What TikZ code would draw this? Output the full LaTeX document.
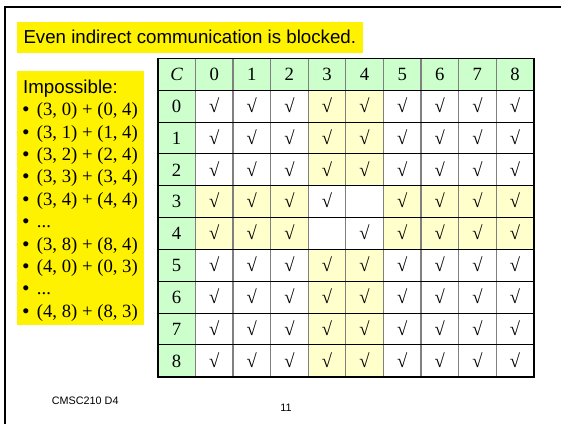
\documentclass[tikz,border=0pt]{standalone}
\usepackage{fontspec}
\setmainfont{Liberation Serif}
\newfontfamily\arial{Liberation Sans}
\definecolor{hdrgreen}{HTML}{CCFFCC}
\definecolor{paleyellow}{HTML}{FFFFCC}
\newcommand\morepairs{...}
\tikzset{
  cell/.style={anchor=base, inner sep=0pt, font=\fontsize{18.7}{22}\selectfont},
  item/.style={anchor=base west, inner sep=0pt, font=\fontsize{18.7}{22}\selectfont},
  bullet/.style={anchor=base west, inner sep=0pt, font=\arial\fontsize{18.7}{22}\selectfont},
  footer/.style={inner sep=0pt, font=\arial\fontsize{10.8}{12}\selectfont},
}
\begin{document}
\begin{tikzpicture}[x=1pt, y=-1pt]
\useasboundingbox (0,0) rectangle (561,424);
% slide frame
\draw[line width=2.2pt] (5,424) -- (5,7) -- (561,7);

% title
\fill[yellow] (16.8,21.5) rectangle (363,52.6);
\node[bullet] (title) at (23.3,43) {Even indirect communication is blocked.};

% list of impossible pairs
\fill[yellow] (16.7,71) rectangle (144,325);
\node[bullet] (imp) at (23,93.3) {Impossible:};
\foreach \txt [count=\k] in {{(3, 0) + (0, 4)}, {(3, 1) + (1, 4)}, {(3, 2) + (2, 4)},
    {(3, 3) + (3, 4)}, {(3, 4) + (4, 4)}, {\morepairs}, {(3, 8) + (8, 4)},
    {(4, 0) + (0, 3)}, {\morepairs}, {(4, 8) + (8, 3)}} {
  \node[bullet] (b\k) at (22.5,{93.3+22.4*\k}) {•};
  \node[item] (i\k) at (36.7,{93.3+22.4*\k}) {\txt};
}

% table fills
\fill[hdrgreen] (157.8,58.3) rectangle (533.8,90.14);
\fill[hdrgreen] (157.8,58.3) rectangle (195.4,376.7);
\fill[paleyellow] (308.2,90.14) rectangle (383.4,376.7);
\fill[paleyellow] (195.4,185.66) rectangle (533.8,249.34);
\fill[white] (308.2,185.66) rectangle (383.4,249.34);

% grid
\foreach \c in {1,...,9}
  \draw[gray, line width=1.2pt] ({157.8+37.6*\c},58.3) -- ++(0,318.4);
\foreach \r in {1,...,9}
  \draw[line width=0.9pt] (157.8,{58.3+31.84*\r}) -- ++(376,0);
\draw[line width=1.6pt] (157.8,58.3) rectangle (533.8,376.7);

% headers
\node[cell] (hC) at (176.6,80.5) {\textit{C}};
\foreach \c in {0,...,8} {
  \node[cell] (h\c) at ({214.2+37.6*\c},80.5) {\c};
  \node[cell] (r\c) at (176.6,{112.36+31.84*\c}) {\c};
}

% checks
\foreach \r in {0,...,8} {
  \foreach \c in {0,...,8} {
    \ifnum\r\c=34\relax\else\ifnum\r\c=43\relax\else
      \node[cell] (k-\r-\c) at ({214.2+37.6*\c},{112.36+31.84*\r}) {√};
    \fi\fi
  }
}

% footer
\node[footer, anchor=west] (course) at (51.7,400.5) {CMSC210 D4};
\node[footer] (page) at (286,407.5) {11};
\end{tikzpicture}
\end{document}
